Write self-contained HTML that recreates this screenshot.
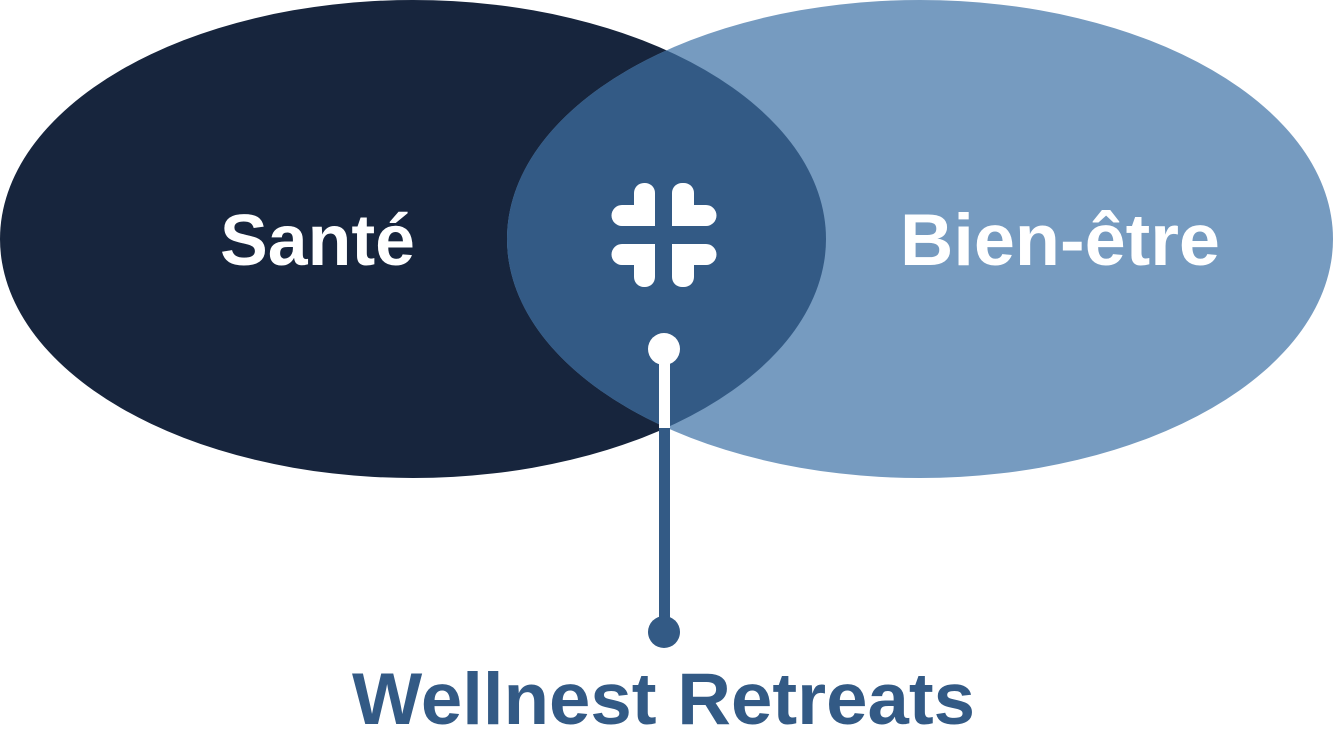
<!DOCTYPE html>
<html><head><meta charset="utf-8"><style>
html,body{margin:0;padding:0;background:#fff;width:1333px;height:749px;overflow:hidden}
text{font-family:"Liberation Sans",sans-serif;font-weight:bold}
</style></head><body>
<svg width="1333" height="749" viewBox="0 0 1333 749" xmlns="http://www.w3.org/2000/svg">
<defs><clipPath id="c"><ellipse cx="413" cy="239" rx="413" ry="239"/></clipPath></defs>
<ellipse cx="413" cy="239" rx="413" ry="239" fill="#17253d"/>
<ellipse cx="920" cy="239" rx="413" ry="239" fill="#769bc0"/>
<ellipse cx="920" cy="239" rx="413" ry="239" fill="#335a85" clip-path="url(#c)"/>
<text x="220" y="265" font-size="72" fill="#fff" textLength="195" lengthAdjust="spacingAndGlyphs">Santé</text>
<text x="900" y="265" font-size="73" fill="#fff" textLength="320" lengthAdjust="spacingAndGlyphs">Bien-être</text>
<g fill="#fff">
<path d="M644 183 a10 10 0 0 1 11 10 V226 H622 a10 10 0 0 1 0 -21 H634 V193 a10 10 0 0 1 10 -10z"/>
<path d="M683 183 a10 10 0 0 0 -11 10 V226 H706 a10 10 0 0 0 0 -21 H694 V193 a10 10 0 0 0 -11 -10z"/>
<path d="M644 287 a10 10 0 0 0 11 -10 V244 H622 a10 10 0 0 0 0 21 H634 V277 a10 10 0 0 0 10 10z"/>
<path d="M683 287 a10 10 0 0 1 -11 -10 V244 H706 a10 10 0 0 1 0 21 H694 V277 a10 10 0 0 1 -11 10z"/>
</g>
<rect x="659" y="350" width="11" height="78" fill="#fff"/>
<circle cx="664" cy="349" r="16" fill="#fff"/>
<rect x="659" y="428" width="11" height="204" fill="#335a85"/>
<circle cx="664" cy="632" r="16" fill="#335a85"/>
<text x="352" y="724" font-size="73" fill="#335a85" textLength="623" lengthAdjust="spacingAndGlyphs">Wellnest Retreats</text>
</svg>
</body></html>
